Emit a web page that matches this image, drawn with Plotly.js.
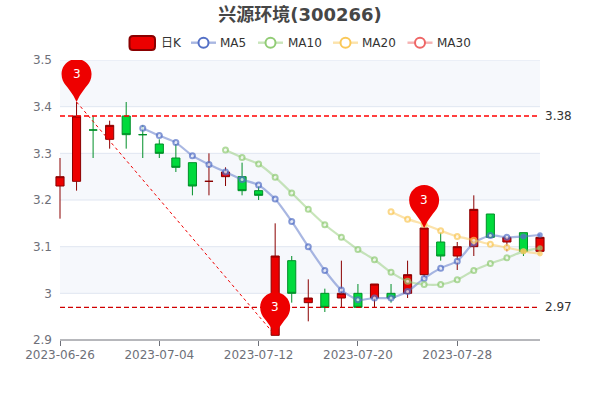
<!DOCTYPE html>
<html>
<head>
<meta charset="utf-8">
<script src="https://cdn.plot.ly/plotly-3.0.1.min.js"></script>
<style>html,body{margin:0;padding:0;background:#fff}#chart{width:600px;height:400px}</style>
</head>
<body>
<div id="chart"></div>
<script>
const titleText = '兴源环境(300266)';
const dates = ['2023-06-26','2023-06-27','2023-06-28','2023-06-29','2023-06-30','2023-07-03','2023-07-04','2023-07-05','2023-07-06','2023-07-07','2023-07-10','2023-07-11','2023-07-12','2023-07-13','2023-07-14','2023-07-17','2023-07-18','2023-07-19','2023-07-20','2023-07-21','2023-07-24','2023-07-25','2023-07-26','2023-07-27','2023-07-28','2023-07-31','2023-08-01','2023-08-02','2023-08-03','2023-08-04'];
const open  = [3.23,3.24,3.35,3.33,3.38,3.34,3.32,3.29,3.28,3.24,3.25,3.25,3.22,2.91,3.07,2.98,3.00,2.99,3.00,2.99,3.00,3.00,3.04,3.11,3.08,3.10,3.17,3.11,3.13,3.09];
const close = [3.25,3.38,3.35,3.36,3.34,3.34,3.30,3.27,3.23,3.24,3.26,3.22,3.21,3.08,3.00,2.99,2.97,3.00,2.97,3.02,2.99,3.04,3.14,3.08,3.10,3.18,3.12,3.12,3.09,3.12];
const high  = [3.29,3.41,3.38,3.37,3.41,3.36,3.33,3.32,3.28,3.30,3.27,3.28,3.23,3.15,3.08,3.03,3.01,3.07,3.02,3.02,3.02,3.07,3.14,3.13,3.11,3.21,3.17,3.12,3.13,3.12];
const low   = [3.16,3.22,3.29,3.31,3.31,3.29,3.29,3.26,3.21,3.21,3.23,3.21,3.20,2.91,2.98,2.94,2.96,2.97,2.97,2.97,2.98,2.99,3.03,3.07,3.05,3.08,3.12,3.09,3.08,3.09];
const ma5 = [null,null,null,null,null,3.354,3.338,3.323,3.295,3.276,3.26,3.244,3.232,3.202,3.154,3.10,3.049,3.007,2.986,2.99,2.99,3.004,3.032,3.054,3.069,3.108,3.124,3.12,3.122,3.125];
const ma10 = [null,null,null,null,null,null,null,null,null,null,3.307,3.291,3.277,3.249,3.215,3.18,3.147,3.12,3.094,3.072,3.045,3.026,3.019,3.019,3.029,3.049,3.064,3.076,3.09,3.097];
const ma20 = [null,null,null,null,null,null,null,null,null,null,null,null,null,null,null,null,null,null,null,null,3.175,3.159,3.148,3.134,3.122,3.114,3.105,3.098,3.09,3.085];
const yTicks = [2.9,3,3.1,3.2,3.3,3.4,3.5];
const yLabels = ['2.9','3','3.1','3.2','3.3','3.4','3.5'];
const xTickIdx = [0,6,12,18,24];
const pinIdx = [1,22,13];
const pinVal = [3.41,3.14,2.91];
const pinLabel = ['3','3','3'];
const maxLine = 3.38, minLine = 2.97;
const legendNames = ['日K','MA5','MA10','MA20','MA30'];

const idx = dates.map((d,i)=>i);
const FONT = '"DejaVu Sans","Noto Sans CJK SC",sans-serif';
const W = 600, H = 400, ML = 50, MR = 50, MT = 60, MB = 60;
const px = x => (x-ML)/(W-ML-MR);
const py = y => 1-(y-MT)/(H-MT-MB);

function maTrace(name, vals, color, faded){
  const n = vals.length;
  const sizes = vals.map((v,i)=> i===n-1 ? 3.5 : i===n-2 ? 4 : 5);
  const fills = vals.map((v,i)=> i>=n-2 ? color : '#fff');
  return {type:'scatter',mode:'lines+markers',name,x:idx,y:vals,hoverinfo:'skip',connectgaps:false,
    line:{color:faded,width:2.2,shape:'spline',smoothing:0.6},
    marker:{symbol:'circle',size:sizes,color:fills,line:{color:color,width:2}}};
}

const traces = [
 {type:'candlestick',name:'日K',x:idx,open,high,low,close,hoverinfo:'skip',whiskerwidth:0,
  increasing:{line:{color:'#8A0000',width:1},fillcolor:'#ec0000'},
  decreasing:{line:{color:'#008F28',width:1},fillcolor:'#00da3c'}},
 maTrace('MA5',ma5,'#5470c6','rgba(84,112,198,0.5)'),
 maTrace('MA10',ma10,'#91cc75','rgba(145,204,117,0.5)'),
 maTrace('MA20',ma20,'#fac858','rgba(250,200,88,0.5)')
];

const shapes = [];
// alternating bands, top band tinted
for(let i=yTicks.length-1;i>0;i-=2){
  shapes.push({type:'rect',layer:'below',xref:'x',yref:'y',x0:0,x1:29,y0:yTicks[i-1],y1:yTicks[i],fillcolor:'#f6f8fc',line:{width:0}});
}
yTicks.slice(1).forEach(v=>shapes.push({type:'line',layer:'below',xref:'x',yref:'y',x0:0,x1:29,y0:v,y1:v,line:{color:'#E0E6F1',width:1}}));
// x axis line
shapes.push({type:'line',layer:'below',xref:'x',yref:'paper',x0:0,x1:29,y0:0,y1:0,line:{color:'#6E7079',width:1}});
// max / min lines
shapes.push({type:'line',layer:'above',xref:'x',yref:'y',x0:0,x1:28.87,y0:maxLine,y1:maxLine,line:{color:'#ff0000',width:1.4,dash:'5px,3px'}});
shapes.push({type:'line',layer:'above',xref:'x',yref:'y',x0:0,x1:28.87,y0:minLine,y1:minLine,line:{color:'#d00000',width:1.4,dash:'5px,3px'}});
// diagonal connecting highest and lowest
shapes.push({type:'line',layer:'above',xref:'x',yref:'y',x0:pinIdx[0],x1:pinIdx[2],y0:pinVal[0],y1:pinVal[2],line:{color:'#f00000',width:1,dash:'3px,3px'}});
// pins
const pinPath = 'M0,0 C-1,2 -2,4 -3,6 C-5,9 -8,13.5 -11,17 C-13,19.5 -15,23 -15,28 C-15,36.3 -8.3,43 0,43 C8.3,43 15,36.3 15,28 C15,23 13,19.5 11,17 C8,13.5 5,9 3,6 C2,4 1,2 0,0 Z';
pinIdx.forEach((x,i)=>shapes.push({type:'path',layer:'above',xref:'x',yref:'y',xsizemode:'pixel',ysizemode:'pixel',xanchor:x,yanchor:pinVal[i],path:pinPath,fillcolor:'#ee0000',line:{width:0}}));

const annotations = [];
pinIdx.forEach((x,i)=>annotations.push({xref:'x',yref:'y',x,y:pinVal[i],yshift:28,text:pinLabel[i],showarrow:false,font:{family:FONT,size:12,color:'#fff'}}));
annotations.push({xref:'x',yref:'y',x:29,y:maxLine,xshift:3,xanchor:'left',text:'3.38',showarrow:false,font:{family:FONT,size:12,color:'#333'}});
annotations.push({xref:'x',yref:'y',x:29,y:minLine,xshift:3,xanchor:'left',text:'2.97',showarrow:false,font:{family:FONT,size:12,color:'#333'}});

// legend
const LY = 42.7;
shapes.push({type:'path',xref:'paper',yref:'paper',layer:'above',
  path:`M${px(133)},${py(36)} L${px(151.5)},${py(36)} Q${px(155)},${py(36)} ${px(155)},${py(39.5)} L${px(155)},${py(46.5)} Q${px(155)},${py(50)} ${px(151.5)},${py(50)} L${px(133)},${py(50)} Q${px(129.5)},${py(50)} ${px(129.5)},${py(46.5)} L${px(129.5)},${py(39.5)} Q${px(129.5)},${py(36)} ${px(133)},${py(36)} Z`,
  fillcolor:'#ec0000',line:{color:'#8A0000',width:2}});
const legendItems = [
 {c:'#5470c6',f:'rgba(84,112,198,0.5)',x0:191,x1:216,tx:219},
 {c:'#91cc75',f:'rgba(145,204,117,0.5)',x0:258,x1:283,tx:286.5},
 {c:'#fac858',f:'rgba(250,200,88,0.5)',x0:333,x1:358,tx:361},
 {c:'#ee6666',f:'rgba(238,102,102,0.5)',x0:407.5,x1:432.5,tx:436}
];
annotations.push({xref:'paper',yref:'paper',x:px(159.5),y:py(LY),xanchor:'left',yanchor:'middle',text:legendNames[0],showarrow:false,borderpad:0,font:{family:FONT,size:12,color:'#333'}});
legendItems.forEach((it,i)=>{
  const cx=(it.x0+it.x1)/2;
  shapes.push({type:'line',xref:'paper',yref:'paper',layer:'above',x0:px(it.x0),x1:px(it.x1),y0:py(LY),y1:py(LY),line:{color:it.f,width:2.4}});
  shapes.push({type:'circle',xref:'paper',yref:'paper',layer:'above',x0:px(cx-5),x1:px(cx+5),y0:py(LY-5),y1:py(LY+5),fillcolor:'#fff',line:{color:it.c,width:2}});
  annotations.push({xref:'paper',yref:'paper',x:px(it.tx),y:py(LY),xanchor:'left',yanchor:'middle',text:legendNames[i+1],showarrow:false,borderpad:0,font:{family:FONT,size:12,color:'#333'}});
});

const layout = {
  width:W,height:H,paper_bgcolor:'#fff',plot_bgcolor:'#fff',showlegend:false,dragmode:false,
  margin:{l:ML,r:MR,t:MT,b:MB,pad:0},
  font:{family:FONT,size:12,color:'#6E7079'},
  title:{text:titleText,x:0.5,xanchor:'center',y:0.963,yanchor:'middle',font:{family:FONT,size:18,color:'#464646',weight:700}},
  xaxis:{type:'linear',range:[-0.604,29.604],fixedrange:true,rangeslider:{visible:false},showgrid:false,zeroline:false,showline:false,
    tickmode:'array',tickvals:xTickIdx,ticktext:xTickIdx.map(i=>dates[i]),ticks:'outside',ticklen:5,tickwidth:1,tickcolor:'#6E7079',ticklabelstandoff:-1,
    tickfont:{family:FONT,size:12,color:'#6E7079'}},
  yaxis:{type:'linear',range:[2.9,3.5],fixedrange:true,showgrid:false,zeroline:false,showline:false,
    tickmode:'array',tickvals:yTicks,ticktext:yLabels,ticks:'',ticklabelstandoff:-3,
    tickfont:{family:FONT,size:12,color:'#6E7079'}},
  shapes,annotations
};
Plotly.newPlot('chart',traces,layout,{displayModeBar:false,staticPlot:true});
</script>
</body>
</html>
